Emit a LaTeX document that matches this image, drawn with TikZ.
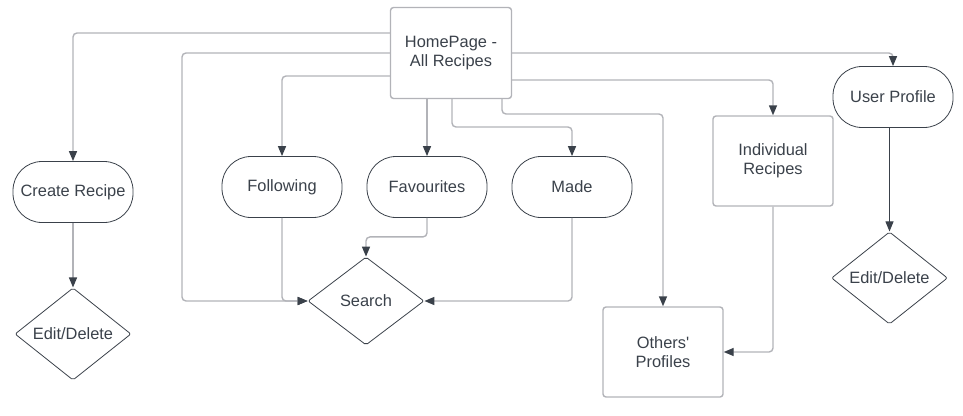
\documentclass[tikz,border=0pt]{standalone}
\usepackage{fontspec}
\setmainfont{Liberation Sans}
\usetikzlibrary{shapes.geometric,arrows.meta}
\definecolor{ink}{HTML}{3A414A}
\definecolor{wire}{HTML}{B2B3B8}
\begin{document}
\begin{tikzpicture}[x=1pt,y=-1pt,
 every node/.style={font=\fontsize{16.4}{19.5}\selectfont, text=ink, inner sep=0pt, align=center},
 boxnode/.style={draw=wire, line width=1.4pt, rounded corners=3pt, minimum width=120pt, minimum height=90pt},
 pill/.style={draw=ink, line width=0.8pt, rounded corners=29pt, minimum width=120pt, minimum height=61pt},
 dia/.style={diamond, draw=ink, line width=0.8pt, rounded corners=2pt, minimum width=116pt, minimum height=88pt},
 link/.style={draw=wire, line width=1.4pt, rounded corners=4pt, -{Triangle[length=10pt,width=8pt,color=ink]}},
]
\path[use as bounding box] (0,0) rectangle (963,415);

\node[boxnode, minimum width=121pt, minimum height=91pt] (home) at (451,53) {HomePage -\\All Recipes};
\node[pill] (create) at (73,192) {Create Recipe};
\node[pill] (follow) at (282,187) {Following};
\node[pill] (fav) at (427,187) {Favourites};
\node[pill] (made) at (572,187) {Made};
\node[pill] (user) at (893,97) {User Profile};
\node[boxnode] (indiv) at (773,161) {Individual\\Recipes};
\node[boxnode] (others) at (663,352) {Others\textquotesingle\\Profiles};
\node[dia] (ed1) at (73,334) {Edit/Delete};
\node[dia] (search) at (366,301) {Search};
\node[dia] (ed2) at (889.5,278) {Edit/Delete};

\draw[link] (home.west |- 0,33) -| (create.north);
\draw[link] (create.south) -- (ed1.north);
\draw[link] (home.west |- 0,53) -| (182,301) -- (search.west);
\draw[link] (home.west |- 0,76) -| (follow.north);
\draw[link] (follow.south) |- (search.west);
\draw[link] (home.south -| 427,0) -- (fav.north);
\draw[link] (fav.south) -- ++(0,19) -| (search.north);
\draw[link] (home.south -| 452,0) -- (452,127) -| (made.north);
\draw[link] (made.south) |- (search.east);
\draw[link] (home.south -| 502,0) -- (502,114) -| (others.north);
\draw[link] (home.east |- 0,53) -| (user.north);
\draw[link] (home.east |- 0,80) -| (indiv.north);
\draw[link, draw=ink, line width=0.9pt] (user.south -| ed2.north) -- (ed2.north);
\draw[link] (indiv.south) |- (others.east);
\end{tikzpicture}
\end{document}
